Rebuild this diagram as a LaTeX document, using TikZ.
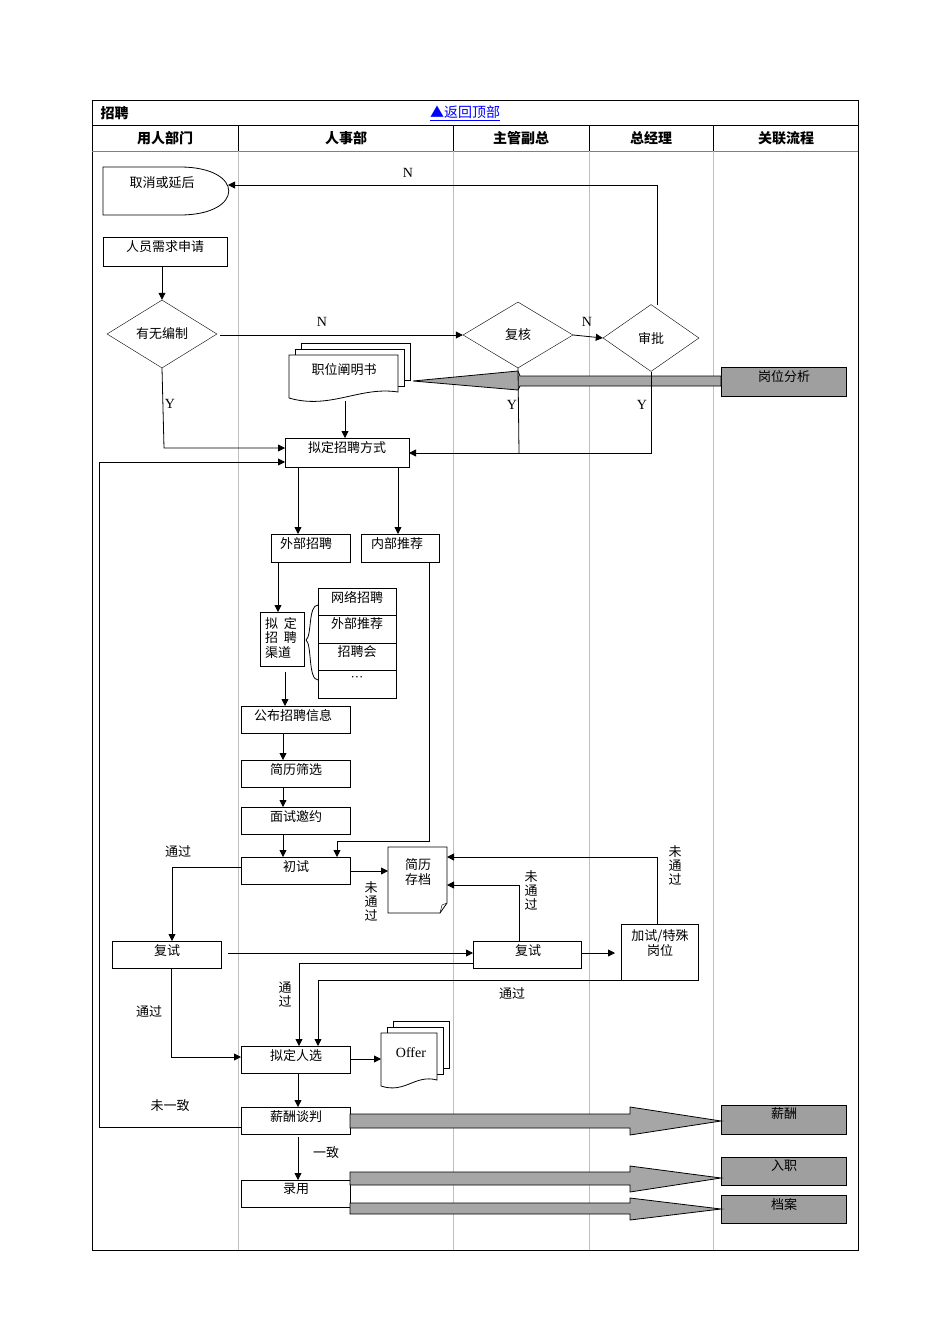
\documentclass[tikz,border=0pt]{standalone}
\usepackage{fontspec}
\setmainfont{Liberation Serif}
\newfontfamily\cjk{Noto Sans CJK SC}
\usetikzlibrary{shapes.geometric,arrows.meta}
\begin{document}
\begin{tikzpicture}[x=1pt,y=-1pt,
  every node/.style={font=\cjk\fontsize{13}{15}\selectfont},
  box/.style={draw,thick,fill=white,inner sep=0pt,anchor=north west},
  gbox/.style={draw,thick,fill=gray!75,inner sep=0pt,anchor=north west,minimum width=125pt},
  dia/.style={draw,diamond,aspect=1.6,inner sep=0pt,fill=white},
  ar/.style={-{Triangle[length=7pt,width=7pt]},thick},
  ln/.style={thick},
  lat/.style={font=\rmfamily\fontsize{14}{16}\selectfont},
  big/.style={draw,thick,fill=gray!70},
  lane/.style={gray!50,thin}]
\useasboundingbox (0,0) rectangle (950,1344);
% table
\draw[thick] (92,100) rectangle (858,1250);
\draw (92,125) -- (858,125);
\draw[gray,thick] (92,151) -- (858,151);
\foreach \x in {238,453,589,713} {\draw (\x,125)--(\x,151); \draw[lane] (\x,151)--(\x,1250);}
\node[font=\cjk\bfseries\fontsize{14}{16}\selectfont,anchor=west] (t) at (97,113) {招聘};
\node[font=\cjk\fontsize{14}{16}\selectfont,text=blue] (top) at (465,113) {\underline{▲返回顶部}};
\foreach \x/\t in {165/用人部门,346/人事部,521/主管副总,651/总经理,786/关联流程}
  \node[font=\cjk\bfseries\fontsize{14}{16}\selectfont] at (\x,138) {\t};
% cancel (delay shape)
\draw[thick,fill=white] (103,167) -- (180,167) .. controls (245,167) and (245,215) .. (180,215) -- (103,215) -- cycle;
\node (cancel) at (162,183) {取消或延后};
\coordinate (cancelR) at (228,185);
\node[box,minimum width=124pt,minimum height=29pt] (req) at (103,237) {};
\node at (165,247) {人员需求申请};
\node[dia,minimum width=110pt,minimum height=68pt] (bz) at (162,334) {有无编制};
\node[dia,minimum width=110pt,minimum height=66pt] (fh) at (518,335) {复核};
\node[dia,minimum width=96pt,minimum height=67pt] (sp) at (651,338) {审批};
% doc 职位阐明书
\foreach \d in {12,6} \draw[thick,fill=white] (289+\d,355-\d) rectangle (398+\d,392-\d);
\draw[thick,fill=white] (289,355) -- (398,355) -- (398,392) .. controls (360,386) and (330,410) .. (289,398) -- cycle;
\node (zw) at (344,370) {职位阐明书};
\coordinate (zwB) at (345,401);
\node[gbox,minimum height=29pt] (gw) at (721,367) {};
\node at (784,377) {岗位分析};
\draw[big] (721,376) -- (520,376) -- (518,371) -- (413,381) -- (518,390) -- (520,386) -- (721,386) -- cycle;
\node[box,minimum width=124pt,minimum height=29pt] (nd) at (285,438) {};
\node at (347,448) {拟定招聘方式};
% connectors top
\draw[ar] (bz.south) -- (164,448) -- (285,448);
\node[lat] at (170,404) {Y};
\draw[ln] (fh.south) -- (519,453);
\draw[ar] (sp.south) -- (651,453) -- (409,453);
\node[lat] at (512,405) {Y};
\node[lat] at (642,405) {Y};
\draw[ar] (220,335) -- (fh.west);
\node[lat] at (322,322) {N};
\draw[ar] (fh.east) -- (sp.west);
\node[lat] at (587,322) {N};
\draw[ar] (657,305) -- (657,185) -- (cancelR);
\node[lat] at (408,173) {N};
\draw[ar] (req.south -| 162,0) -- (bz.north);
\draw[ar] (zwB) -- (345,438);
% channels
\node[box,minimum width=79pt,minimum height=28pt] (wb) at (271,534) {};
\node at (306,544) {外部招聘};
\node[box,minimum width=78pt,minimum height=28pt] (nb) at (361,534) {};
\node at (397,544) {内部推荐};
\draw[ar] (298,467) -- (298,534);
\draw[ar] (398,467) -- (398,534);
\node[box,minimum width=44pt,minimum height=54pt] (qd) at (260,612) {};
\node[align=left,font=\cjk\fontsize{13}{14.5}\selectfont] at (281,638) {拟\ \ 定\\招\ \ 聘\\渠道};
\draw[ar] (278,562) -- (278,612);
\draw[thick] (318,605) .. controls (308,605) and (312,636) .. (306,640) .. controls (312,644) and (308,680) .. (318,680);
\foreach \y/\t in {588/网络招聘,615/外部推荐,643/招聘会,670/\rmfamily···} {
  \node[box,minimum width=78pt,minimum height=28pt] at (318,\y) {};
  \node at (357,\y+9) {\t};}
\node[box,minimum width=109pt,minimum height=27pt] (gb) at (241,706) {};
\node at (293,716) {公布招聘信息};
\draw[ar] (285,672) -- (285,706);
\node[box,minimum width=109pt,minimum height=27pt] (sx) at (241,760) {};
\node at (296,770) {简历筛选};
\draw[ar] (283,733) -- (283,760);
\node[box,minimum width=109pt,minimum height=27pt] (ms) at (241,807) {};
\node at (296,817) {面试邀约};
\draw[ar] (283,787) -- (283,807);
\node[box,minimum width=109pt,minimum height=27pt] (cs) at (241,857) {};
\node at (296,867) {初试};
\draw[ar] (283,834) -- (283,857);
\draw[ar] (429,562) -- (429,841) -- (337,841) -- (337,857);
% 简历存档
\draw[thick,fill=white] (388,847) -- (447,847) -- (447,903) -- (440,913) -- (388,913) -- cycle;
\draw (440,913) -- (442,905) -- (447,903);
\node[align=center] (da) at (418,872) {简历\\存档};
\draw[ar] (350,871) -- (388,871);
\node[align=center,font=\cjk\fontsize{13}{14}\selectfont] at (371,901) {未\\通\\过};
% 复试 left
\node[box,minimum width=109pt,minimum height=27pt] (fs1) at (112,941) {};
\node at (167,951) {复试};
\draw[ar] (241,867) -- (172,867) -- (172,941);
\node at (178,852) {通过};
\node[box,minimum width=108pt,minimum height=27pt] (fs2) at (473,941) {};
\node at (528,951) {复试};
\draw[ar] (228,953) -- (473,953);
\node[box,minimum width=77pt,minimum height=56pt] (js) at (621,924) {};
\node[align=center,font=\cjk\fontsize{13}{15}\selectfont] at (660,943) {加试/特殊\\岗位};
\draw[ar] (581,953) -- (615,953);
\draw[ar] (519,941) -- (519,885) -- (447,885);
\node[align=center,font=\cjk\fontsize{13}{14}\selectfont] at (531,890) {未\\通\\过};
\draw[ar] (657,924) -- (657,857) -- (447,857);
\node[align=center,font=\cjk\fontsize{13}{14}\selectfont] at (675,865) {未\\通\\过};
% to 拟定人选
\node[box,minimum width=109pt,minimum height=27pt] (rx) at (241,1046) {};
\node at (296,1056) {拟定人选};
\draw[ar] (473,963) -- (299,963) -- (299,1046);
\node[align=center,font=\cjk\fontsize{13}{14}\selectfont] at (285,995) {通\\过};
\draw[ar] (655,980) -- (318,980) -- (318,1046);
\node at (512,994) {通过};
\draw[ar] (171,968) -- (171,1057) -- (241,1057);
\node at (149,1012) {通过};
% Offer
\foreach \d in {12,6} \draw[thick,fill=white] (381+\d,1033-\d) rectangle (437+\d,1080-\d);
\draw[thick,fill=white] (381,1033) -- (437,1033) -- (437,1080) .. controls (415,1074) and (405,1094) .. (381,1086) -- cycle;
\node[lat] (offer) at (411,1053) {Offer};
\draw[ar] (350,1059) -- (381,1059);
% 薪酬谈判
\node[box,minimum width=109pt,minimum height=27pt] (xc) at (241,1107) {};
\node at (296,1117) {薪酬谈判};
\draw[ar] (298,1073) -- (298,1107);
\draw[ar] (241,1127) -- (99,1127) -- (99,462) -- (285,462);
\node at (170,1106) {未一致};
\node[box,minimum width=109pt,minimum height=27pt] (ly) at (241,1180) {};
\node at (296,1189) {录用};
\draw[ar] (298,1137) -- (298,1180);
\node at (326,1153) {一致};
% right boxes
\node[gbox,minimum height=29pt] (xcb) at (721,1105) {};
\node at (784,1114) {薪酬};
\node[gbox,minimum height=28pt] (rz) at (721,1157) {};
\node at (784,1166) {入职};
\node[gbox,minimum height=28pt] (da2) at (721,1195) {};
\node at (784,1204) {档案};
\draw[big] (350,1114) -- (630,1114) -- (630,1107) -- (721,1121) -- (630,1135) -- (630,1128) -- (350,1128) -- cycle;
\draw[big] (350,1172) -- (630,1172) -- (630,1166) -- (721,1178) -- (630,1192) -- (630,1185) -- (350,1185) -- cycle;
\draw[big] (350,1203) -- (630,1203) -- (630,1198) -- (721,1209) -- (630,1220) -- (630,1214) -- (350,1214) -- cycle;
\end{tikzpicture}
\end{document}
